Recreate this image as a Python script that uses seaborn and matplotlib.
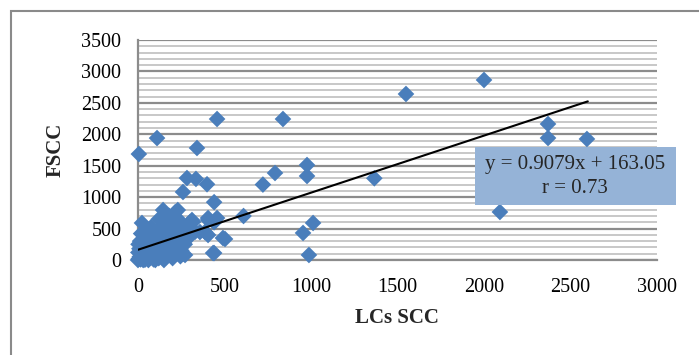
import matplotlib
matplotlib.use("Agg")
import matplotlib.pyplot as plt
from matplotlib.patches import Rectangle
from matplotlib.ticker import MultipleLocator
import seaborn as sns
import pandas as pd

# ---- data ----
cluster_x = [0, 5, 10, 15, 20, 25, 30, 35, 40, 45, 50, 55, 60, 65, 70, 75, 80, 85, 90, 95,
             100, 105, 110, 115, 120, 125, 130, 135, 140, 145, 150, 155, 160, 165, 170, 175,
             180, 185, 190, 195, 200, 205, 210, 215, 220, 225, 230, 235, 240, 245, 250, 255,
             260, 270, 272, 280, 290, 300, 312, 318, 330, 358, 387, 405, 405, 405, 440, 440,
             457, 491, 23, 12, 8, 3, 18, 2, 28, 40, 60, 75, 90, 120, 150, 170, 200, 230, 260,
             100, 150, 200, 60, 30]
cluster_y = [0, 20, 50, 10, 100, 30, 150, 60, 5, 200, 80, 120, 20, 250, 40, 180, 300, 90, 10, 350,
             140, 60, 420, 220, 30, 480, 300, 100, 550, 795, 380, 180, 40, 620, 460, 260,
             700, 120, 540, 340, 600, 70, 420, 760, 200, 668, 795, 500, 300, 60, 150, 420,
             560, 250, 80, 480, 350, 600, 636, 605, 450, 445, 445, 398, 636, 668, 111, 600,
             668, 350, 589, 300, 180, 250, 420, 120, 280, 350, 450, 520, 240, 650, 700, 180, 250, 350, 100,
             0, 0, 30, 0, 0]
outlier_x = [5, 110, 341, 457, 838, 1549, 2000, 2370, 2370, 2595, 2092, 977, 977, 792, 722,
             283, 335, 399, 260, 440, 610, 503, 434, 988, 954, 1012, 1366]
outlier_y = [1686, 1940, 1782, 2243, 2243, 2641, 2864, 2164, 1941, 1925, 764, 1511, 1336, 1384, 1200,
             1304, 1290, 1205, 1082, 920, 700, 334, 111, 80, 430, 589, 1300]

slope = 0.9079
intercept = 163.05
r_value = 0.73
line_x = [0, 2600]

x_ticks = [0, 500, 1000, 1500, 2000, 2500, 3000]
y_ticks = [0, 500, 1000, 1500, 2000, 2500, 3000, 3500]

df = pd.DataFrame({"LCs SCC": cluster_x + outlier_x, "FSCC": cluster_y + outlier_y})
line_y = [slope * v + intercept for v in line_x]

# ---- style ----
sns.set_style("white")
plt.rcParams["font.family"] = ["Liberation Serif", "DejaVu Serif"]

W, H = 699, 355
fig = plt.figure(figsize=(W / 100, H / 100), dpi=100)
ax = fig.add_axes([138 / W, (H - 260) / H, (657 - 138) / W, 220 / H])

sns.scatterplot(data=df, x="LCs SCC", y="FSCC", marker="D", s=72, color="#4A7EBB",
                edgecolor="none", linewidth=0, ax=ax, clip_on=False, zorder=3)
ax.plot(line_x, line_y, color="black", lw=1.5, zorder=4)

ax.set_xlim(0, 3000)
ax.set_ylim(0, 3500)
ax.set_xticks(x_ticks)
ax.set_yticks(y_ticks)
ax.yaxis.set_minor_locator(MultipleLocator(100))
ax.set_xlabel("")
ax.set_ylabel("")

ax.yaxis.grid(True, which="minor", color="#c4c4c4", lw=1.3, zorder=0)
ax.yaxis.grid(True, which="major", color="#8c8c8c", lw=1.6, zorder=1)
ax.xaxis.grid(False)
ax.set_axisbelow(True)

for s in ["top", "right"]:
    ax.spines[s].set_visible(False)
for s in ["left", "bottom"]:
    ax.spines[s].set_color("#8c8c8c")
    ax.spines[s].set_linewidth(1.6)

ax.tick_params(axis="both", which="major", direction="out", length=5, width=1.4,
               color="#8c8c8c", labelsize=14.5, labelcolor="black")
ax.tick_params(axis="x", pad=8)
ax.tick_params(axis="y", pad=7)
ax.tick_params(axis="y", which="minor", length=0)

# axis titles
fig.text(397 / W, 1 - 318 / H, "LCs SCC", ha="center", va="center",
         fontsize=15, fontweight="bold")
fig.text(56 / W, 1 - 150 / H, "FSCC", ha="center", va="center",
         fontsize=15, fontweight="bold", rotation=90)

# equation box
fig.patches.append(Rectangle((475 / W, 1 - 205 / H), 201 / W, 58 / H,
                             transform=fig.transFigure, facecolor="#95B3D7",
                             edgecolor="none", zorder=5))
fig.text(575 / W, 1 - 164 / H, f"y = {slope}x + {intercept}", ha="center", va="center",
         fontsize=15, zorder=6)
fig.text(575 / W, 1 - 189 / H, f"r = {r_value}", ha="center", va="center",
         fontsize=15, zorder=6)

# outer chart border (cut off at right and bottom)
fig.patches.append(Rectangle((11 / W, -0.1), 1.2, (H - 11) / H + 0.1,
                             transform=fig.transFigure, fill=False,
                             edgecolor="#8a8a8a", lw=1.5))

fig.savefig("out.png", dpi=100)
